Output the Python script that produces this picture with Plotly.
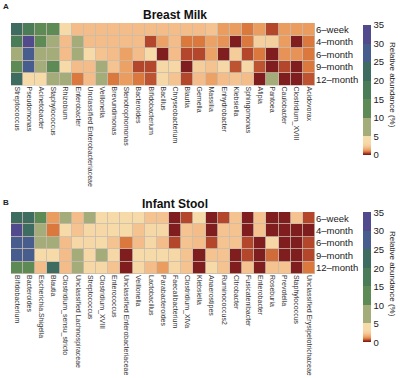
import plotly.graph_objects as go

rows = ["6–week", "4–month", "6–month", "9–month", "12–month"]

bm_taxa = ["Streptococcus", "Pseudomonas", "Acinetobacter", "Staphylococcus", "Rhizobium",
           "Enterobacter", "Unclassified Enterobacteriaceae", "Veillonella", "Brevundimonas",
           "Stenotrophomonas", "Bacteroides", "Bifidobacterium", "Bacillus", "Chryseobacterium",
           "Blautia", "Gemella", "Massilia", "Enhydrobacter", "Klebsiella", "Sphingomonas",
           "Afipia", "Pantoea", "Caulobacter", "Clostridium_XVIII", "Acidovorax"]

bm_6week = [21, 15, 14, 14, 3.5, 2.0, 2.0, 2.0, 2.0, 2.0, 2.0, 2.0, 2.0, 2.0, 2.0, 2.0, 2.2, 1.3, 1.3, 0.9, 1.3, 0.5, 1.3, 1.3, 1.3]
bm_4month = [16, 32, 14, 7, 2.0, 7, 2.0, 2.0, 2.0, 2.0, 2.0, 0.5, 1.4, 2.0, 0.9, 0.9, 1.4, 1.2, 0.1, 0.9, 2.6, 2.6, 1.3, 0.1, 0.9]
bm_6month = [7, 27, 7, 7, 2.0, 7, 3.5, 2.2, 2.0, 1.4, 2.0, 3.5, 0.1, 2.0, 0.5, 0.5, 1.4, 0.1, 2.5, 0.5, 0.9, 0.1, 1.2, 1.2, 0.9]
bm_9month = [14, 27, 8, 13, 3.5, 2.0, 2.0, 6.5, 2.2, 1.4, 0.5, 0.5, 3.2, 3.2, 0.1, 2.5, 2.2, 3.2, 0.6, 3.2, 0.6, 0.1, 0.5, 0.1, 0.9]
bm_12month = [22, 3.5, 3.5, 7, 6.5, 0.9, 2.0, 6.5, 0.9, 1.3, 0.9, 0.6, 3.2, 2.2, 0.5, 2.0, 1.4, 2.0, 2.2, 2.0, 0.1, 6.5, 0.1, 0.1, 0.6]

is_taxa = ["Bifidobacterium", "Bacteroides", "Escherichia.Shigella", "Blautia",
           "Clostridium_sensu_stricto", "Unclassified Lachnospiraceae", "Streptococcus",
           "Clostridium_XVIII", "Enterococcus", "Unclassified Enterobacteriaceae", "Veillonella",
           "Lactobacillus", "Parabacteroides", "Faecalibacterium", "Clostridium_XlVa", "Klebsiella",
           "Anaerostipes", "Ruminococcus2", "Citrobacter", "Fusicatenibacter", "Enterobacter",
           "Roseburia", "Prevotella", "Staphylococcus", "Unclassified Erysipelotrichaceae"]

is_6week = [20, 20, 14, 1.3, 7, 2.0, 7, 3.5, 3.5, 3.5, 3.5, 2.2, 2.2, 0.1, 0.5, 3.5, 0.1, 0.5, 2.2, 0.1, 2.2, 0.1, 0.1, 2.2, 0.5]
is_4month = [31, 21, 7, 0.9, 3.5, 2.2, 3.2, 3.2, 3.5, 3.5, 2.2, 3.2, 3.2, 0.1, 2.2, 2.0, 0.1, 2.2, 2.2, 0.1, 2.2, 0.1, 0.1, 0.1, 0.1]
is_6month = [29, 25, 7, 7, 2.0, 3.2, 3.2, 3.5, 2.2, 0.9, 2.0, 3.2, 2.0, 0.5, 2.2, 2.0, 0.5, 2.2, 2.2, 0.5, 0.1, 3.2, 0.1, 0.1, 0.5]
is_9month = [26, 25, 3.5, 3.5, 2.0, 6.5, 3.2, 6.5, 3.2, 0.1, 3.5, 3.5, 3.5, 3.2, 2.2, 0.1, 2.2, 2.2, 0.1, 0.5, 0.1, 0.8, 0.1, 0.1, 0.5]
is_12month = [14, 14, 2.0, 22, 2.0, 6.5, 3.2, 3.2, 2.2, 0.1, 3.2, 2.0, 1.3, 3.2, 2.2, 0.1, 3.5, 2.2, 0.1, 2.2, 0.1, 2.2, 2.2, 0.1, 0.9]

cb_ticks = [0, 5, 10, 15, 20, 25, 30, 35]

ZMAX = 35.0
def s(v):
    return v / ZMAX

colorscale = [
    [0.0, "#7a1a1c"], [s(0.25), "#8a2222"], [s(0.5), "#b3462b"], [s(0.9), "#da783d"],
    [s(1.3), "#eb9c5f"], [s(2.0), "#f3bc89"], [s(2.6), "#f5d09f"], [s(3.4), "#f6dba9"],
    [s(5.0), "#f6dca9"],
    [s(5.0), "#a4ac7a"], [s(10), "#a4ac7a"],
    [s(10), "#5e8b55"], [s(15), "#5e8b55"],
    [s(15), "#4a7c57"], [s(20), "#4a7c57"],
    [s(20), "#3e6c60"], [s(25), "#3e6c60"],
    [s(25), "#475d8d"], [s(30), "#475d8d"],
    [s(30), "#514b8d"], [1.0, "#514b8d"],
]

FONT = "Liberation Sans, Arial, Helvetica, sans-serif"

fig = go.Figure()
fig.add_trace(go.Heatmap(
    z=[bm_6week, bm_4month, bm_6month, bm_9month, bm_12month],
    x=bm_taxa, y=rows, coloraxis="coloraxis", xgap=0.8, ygap=0.8,
    xaxis="x", yaxis="y"))
fig.add_trace(go.Heatmap(
    z=[is_6week, is_4month, is_6month, is_9month, is_12month],
    x=is_taxa, y=rows, coloraxis="coloraxis2", xgap=0.8, ygap=0.8,
    xaxis="x2", yaxis="y2"))

W = 400.0
H = 378.0
def px_(x):
    return x / W
def py(y):
    return 1 - y / H

cb_common = dict(thickness=8, thicknessmode="pixels", len=130, lenmode="pixels",
                 x=px_(363), xanchor="left", xpad=0, ypad=0, yanchor="middle",
                 tickvals=cb_ticks, ticks="", outlinewidth=0,
                 tickfont=dict(size=9.5, family=FONT, color="#222"))

axis_x = dict(domain=[px_(11), px_(315)], tickangle=90, automargin=False,
              tickfont=dict(size=7, family=FONT, color="#333"), showgrid=False,
              ticks="", showline=False)
axis_y = dict(side="right", autorange="reversed", automargin=False,
              tickfont=dict(size=9.5, family=FONT, color="#222"), showgrid=False, ticks="")

fig.update_layout(
    width=400, height=378,
    margin=dict(l=0, r=0, t=0, b=0, autoexpand=False),
    paper_bgcolor="white", plot_bgcolor="#c9bcae",
    font=dict(family=FONT, color="#222"),
    coloraxis=dict(colorscale=colorscale, cmin=0, cmax=ZMAX,
                   colorbar=dict(cb_common, y=py(90))),
    coloraxis2=dict(colorscale=colorscale, cmin=0, cmax=ZMAX,
                    colorbar=dict(cb_common, y=py(277.5))),
    xaxis=dict(axis_x, anchor="y"),
    yaxis=dict(axis_y, domain=[py(85.5), py(23)], anchor="x"),
    xaxis2=dict(axis_x, anchor="y2"),
    yaxis2=dict(axis_y, domain=[py(274), py(212)], anchor="x2"),
    annotations=[
        dict(text="<b>A</b>", x=px_(6), y=py(6.5), xref="paper", yref="paper",
             showarrow=False, xanchor="center", yanchor="middle", font=dict(size=8, family=FONT)),
        dict(text="<b>Breast Milk</b>", x=px_(175), y=py(15), xref="paper", yref="paper",
             showarrow=False, xanchor="center", yanchor="middle", font=dict(size=12, family=FONT, color="#111")),
        dict(text="<b>B</b>", x=px_(6), y=py(202), xref="paper", yref="paper",
             showarrow=False, xanchor="center", yanchor="middle", font=dict(size=8, family=FONT)),
        dict(text="<b>Infant Stool</b>", x=px_(175), y=py(204), xref="paper", yref="paper",
             showarrow=False, xanchor="center", yanchor="middle", font=dict(size=12, family=FONT, color="#111")),
        dict(text="Relative abundance (%)", x=px_(393), y=py(85), xref="paper", yref="paper",
             showarrow=False, textangle=90, xanchor="center", yanchor="middle",
             font=dict(size=8, family=FONT, color="#222")),
        dict(text="Relative abundance (%)", x=px_(393), y=py(274), xref="paper", yref="paper",
             showarrow=False, textangle=90, xanchor="center", yanchor="middle",
             font=dict(size=8, family=FONT, color="#222")),
    ],
)

fig.write_html("out.html", config={"displayModeBar": False},
               post_script="document.body.style.margin='0';")
